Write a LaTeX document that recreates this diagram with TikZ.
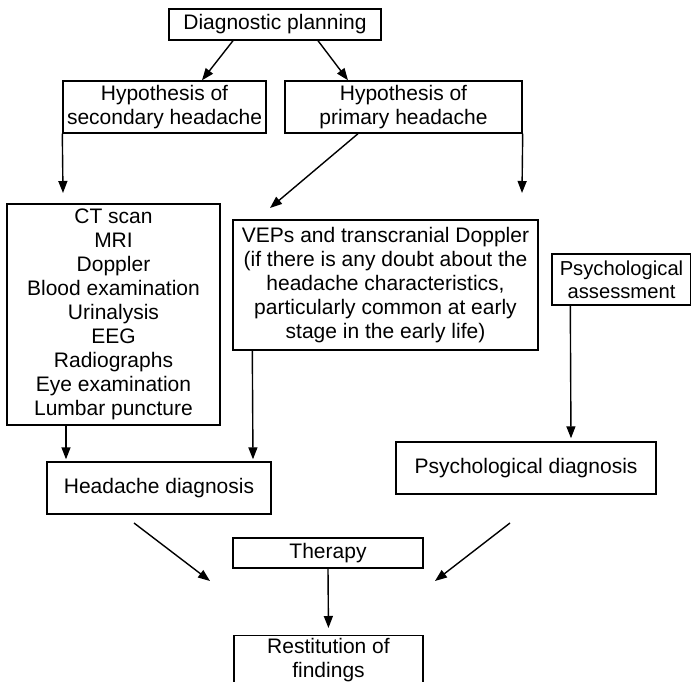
\documentclass[tikz,border=0pt]{standalone}
\usepackage{fontspec}
\setmainfont{Liberation Sans}
\usepackage{tikz}
\usetikzlibrary{arrows.meta}

\tikzset{
  flowbox/.style={draw, line width=1.4pt, align=center, inner sep=0pt,
    font=\fontsize{21}{24}\selectfont},
  arr/.style={line width=1.4pt, -{Triangle[length=12pt,width=9pt]}},
}

\begin{document}
\begin{tikzpicture}[x=1pt,y=-1pt]
    \useasboundingbox (0,0) rectangle (691,682);
    \clip (0,0) rectangle (691,682);
    \node[flowbox,minimum width=212pt,minimum height=31pt] (plan) at (275,24.5)
      {Diagnostic planning};
    \node[flowbox,minimum width=203pt,minimum height=52pt] (hypsec) at (164.5,107)
      {Hypothesis of\\secondary headache};
    \node[flowbox,minimum width=237pt,minimum height=52pt] (hypprim) at (403.5,107)
      {Hypothesis of\\primary headache};
    \node[flowbox,minimum width=213pt,minimum height=221pt] (tests) at (113.5,314.5)
      {CT scan\\MRI\\Doppler\\Blood examination\\Urinalysis\\EEG\\Radiographs\\Eye examination\\Lumbar puncture};
    \node[flowbox,minimum width=305pt,minimum height=130pt] (veps) at (385.5,285)
      {VEPs and transcranial Doppler\\(if there is any doubt about the\\headache characteristics,\\particularly common at early\\stage in the early life)};
    \node[flowbox,minimum width=139pt,minimum height=51pt,
      font=\fontsize{20.2}{23}\selectfont] (psyass) at (621.5,279.5)
      {Psychological\\assessment};
    \node[flowbox,minimum width=224pt,minimum height=52pt] (hdiag) at (159,488)
      {Headache diagnosis};
    \node[flowbox,minimum width=260pt,minimum height=52pt] (pdiag) at (526,468)
      {Psychological diagnosis};
    \node[flowbox,minimum width=190pt,minimum height=30pt] (therapy) at (328,553)
      {Therapy};
    \node[flowbox,minimum width=189pt,minimum height=60pt,anchor=north,
      inner ysep=3pt,text depth=40pt] (restit) at (328.5,635)
      {Restitution of\\findings};

    \coordinate (sec end) at (63,193);
    \coordinate (prim end) at (522,193);
    \coordinate (veps end) at (270,208);
    \coordinate (hd start) at (134,523);
    \coordinate (hd end) at (210,581);
    \coordinate (pd start) at (510,523);
    \coordinate (pd end) at (435,581);

    \draw[arr] ([xshift=-42pt]plan.south) -- ([xshift=37.5pt]hypsec.north);
    \draw[arr] ([xshift=43pt]plan.south) -- ([xshift=-55.5pt]hypprim.north);
    \draw[arr] (hypsec.south west) -- (sec end);
    \draw[arr] (hypprim.south east) -- (prim end);
    \draw[arr] ([xshift=-45.5pt]hypprim.south) -- (veps end);
    \draw[arr,shorten >=2pt] ([xshift=-47.5pt]tests.south) -- ([xshift=-93pt]hdiag.north);
    \draw[arr,shorten >=2pt] ([xshift=20pt]veps.south west) -- ([xshift=94pt]hdiag.north);
    \draw[arr,shorten >=3pt] ([xshift=19pt]psyass.south west) -- ([xshift=45pt]pdiag.north);
    \draw[arr] (hd start) -- (hd end);
    \draw[arr] (pd start) -- (pd end);
    \draw[arr,shorten >=7pt] (therapy.south) -- (restit.north);
\end{tikzpicture}
\end{document}
